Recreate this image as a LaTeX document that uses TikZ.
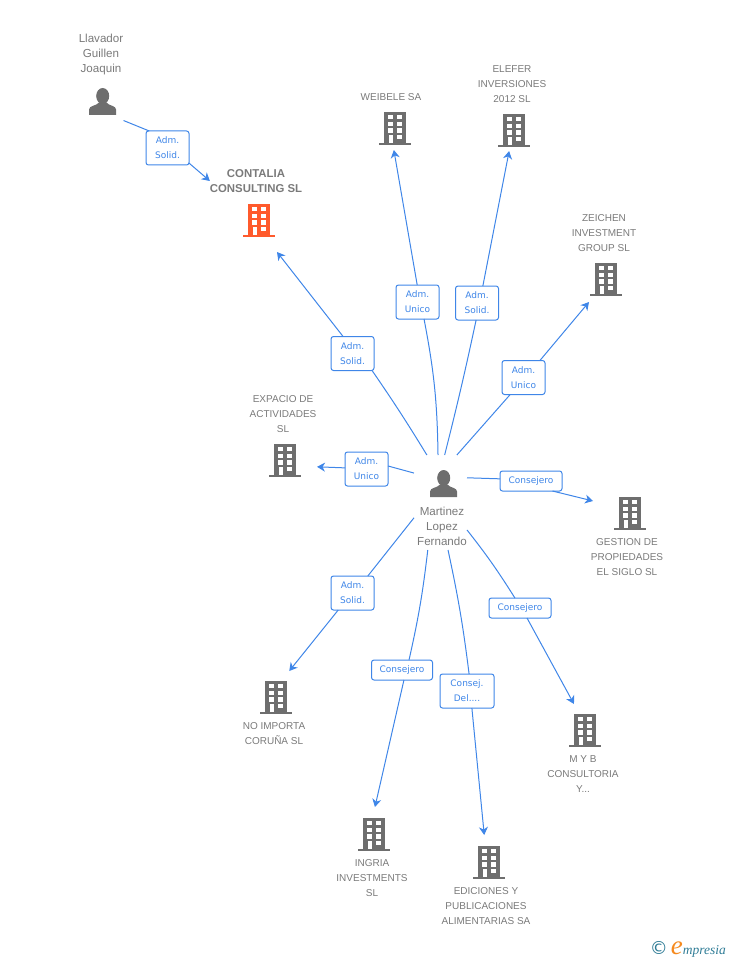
\documentclass[tikz,border=0pt]{standalone}
\usepackage{fontspec}
\setmainfont{Liberation Sans}
\newfontfamily\rolefont{DejaVu Sans}
\newfontfamily\markfont{Liberation Serif}
\usetikzlibrary{arrows.meta}
\definecolor{linkblue}{HTML}{3F86E8}
\definecolor{iconGray}{HTML}{6E6E6E}
\definecolor{nameGray}{HTML}{7A7A7A}
\definecolor{mainOrange}{HTML}{FF5A2C}
\definecolor{markTeal}{HTML}{2F7C96}
\definecolor{markOrange}{HTML}{F58A1F}
\newcommand{\buildingicon}[1]{%
  \begin{scope}[shift={(path picture bounding box.center)}]
    \fill[#1] (-11,-16) rectangle (11,15);
    \fill[#1] (-16,15) rectangle (16,17);
    \fill[white] (-7.3,-13) rectangle (-2.3,-8.7);
    \fill[white] (2.3,-13) rectangle (7.3,-8.7);
    \fill[white] (-7.3,-6.3) rectangle (-2.3,-2);
    \fill[white] (2.3,-6.3) rectangle (7.3,-2);
    \fill[white] (-7.3,0.3) rectangle (-2.3,4.7);
    \fill[white] (2.3,0.3) rectangle (7.3,4.7);
    \fill[white] (-6.5,7) rectangle (-2.3,15);
    \fill[white] (2.3,7) rectangle (7.3,11.3);
  \end{scope}}
\newcommand{\personicon}{%
  \begin{scope}[shift={(path picture bounding box.center)}]
    \fill[iconGray] (0.2,-5.5) ellipse (6.5 and 8);
    \fill[iconGray] (-13.5,13.5) -- (-13.5,8) .. controls (-13.5,4) and (-6,4.5) .. (-3.5,1)
      -- (4,1) .. controls (6.5,4.5) and (13.5,4) .. (13.5,8) -- (13.5,13.5) -- cycle;
  \end{scope}}
\tikzset{
  bldg/.style={minimum width=44pt, minimum height=44pt, inner sep=0pt, outer sep=0pt,
    path picture={\buildingicon{iconGray}}},
  mainbldg/.style={minimum width=36pt, minimum height=64pt, inner sep=0pt, outer sep=0pt,
    path picture={\buildingicon{mainOrange}}},
  person/.style={minimum width=42pt, minimum height=38pt, inner sep=0pt, outer sep=0pt,
    path picture={\personicon}},
  namelbl/.style={align=center, text=nameGray, inner sep=0pt, outer sep=0pt,
    font=\fontsize{10}{15}\selectfont},
  personlbl/.style={namelbl, font=\fontsize{11.6}{15}\selectfont},
  rolelbl/.style={draw=linkblue, line width=1pt, rounded corners=2.5pt, fill=white, align=center,
    text=linkblue, inner sep=0pt, outer sep=0pt, minimum width=43pt, minimum height=34pt,
    font=\rolefont\fontsize{9}{15}\selectfont},
  link/.style={draw=linkblue, line width=1pt},
  linkto/.style={link, -{Stealth[length=8pt, width=9pt, inset=2.5pt]}}
}
\begin{document}
\begin{tikzpicture}[x=1pt, y=-1pt]
    \useasboundingbox (0,0) rectangle (728,960);

    \node[person] (llavador) at (102.5,101.5) {};
    \node[personlbl] (llavadorname) at (101,55) {Llavador\\Guillen\\Joaquin};
    \node[person] (martinezicon) at (443.5,483.5) {};
    \node[personlbl] (martinezname) at (442,526.5) {Martinez\\Lopez\\Fernando};
    \node[inner sep=0pt, outer sep=0pt, minimum width=53pt, minimum height=95pt] (martinez) at (440.5,502.5) {};

    \node[mainbldg] (contalia) at (259,220) {};
    \node[namelbl, font=\fontsize{11.4}{15}\selectfont\bfseries] (contalianame) at (256,181) {CONTALIA\\CONSULTING SL};
    \node[bldg] (weibele) at (395,128) {};
    \node[namelbl] (weibelename) at (391,97) {WEIBELE SA};
    \node[bldg, minimum height=42pt] (elefer) at (514,130) {};
    \node[namelbl] (elefername) at (512,84) {ELEFER\\INVERSIONES\\2012 SL};
    \node[bldg, minimum width=34pt, minimum height=46pt] (zeichen) at (606,279) {};
    \node[namelbl] (zeichenname) at (604,233) {ZEICHEN\\INVESTMENT\\GROUP SL};
    \node[bldg, minimum width=64pt] (expacio) at (285,460) {};
    \node[namelbl] (expacioname) at (283,414) {EXPACIO DE\\ACTIVIDADES\\SL};
    \node[bldg, minimum width=74pt] (gestion) at (630,513) {};
    \node[namelbl] (gestionname) at (627,557) {GESTION DE\\PROPIEDADES\\EL SIGLO SL};
    \node[bldg, minimum width=40pt, minimum height=52pt] (noimporta) at (276,697) {};
    \node[namelbl] (noimportaname) at (274,733.5) {NO IMPORTA\\CORUÑA SL};
    \node[bldg, minimum height=52pt] (myb) at (585,730) {};
    \node[namelbl] (mybname) at (583,774) {M Y B\\CONSULTORIA\\Y...};
    \node[bldg, minimum height=54pt] (ingria) at (374,834) {};
    \node[namelbl] (ingrianame) at (372,878) {INGRIA\\INVESTMENTS\\SL};
    \node[bldg, minimum height=54pt] (ediciones) at (489,862) {};
    \node[namelbl] (edicionesname) at (486,906) {EDICIONES Y\\PUBLICACIONES\\ALIMENTARIAS SA};

    \node[rolelbl] (rolellavador) at (167.5,148) {Adm.\\Solid.};
    \node[rolelbl] (rolecontalia) at (352.5,353.5) {Adm.\\Solid.};
    \node[rolelbl] (roleweibele) at (417.5,302) {Adm.\\Unico};
    \node[rolelbl] (roleelefer) at (477,303) {Adm.\\Solid.};
    \node[rolelbl] (rolezeichen) at (523.5,377.5) {Adm.\\Unico};
    \node[rolelbl] (roleexpacio) at (366.5,469) {Adm.\\Unico};
    \node[rolelbl, minimum width=62pt, minimum height=20pt] (rolegestion) at (531,481) {Consejero};
    \node[rolelbl] (rolenoimporta) at (352.5,593) {Adm.\\Solid.};
    \node[rolelbl, minimum width=61pt, minimum height=20pt] (roleingria) at (402,670) {Consejero};
    \node[rolelbl, minimum width=54pt] (roleediciones) at (467,691) {Consej.\\Del....};
    \node[rolelbl, minimum width=62pt, minimum height=20pt] (rolemyb) at (520,608) {Consejero};

    \draw[link] (llavador.south east) -- (rolellavador.137);
    \draw[linkto] (rolellavador.325) -- (contalianame.west);
    \draw[link] (martinez.106) to[bend right=1.5] (rolecontalia.319);
    \draw[linkto] (rolecontalia.119) -- (contalia.south east);
    \draw[link] (martinez.93) to[bend right=5] (roleweibele.291);
    \draw[linkto] (roleweibele.91) -- (weibele.267);
    \draw[link] (martinez.85) to[bend right=1] (roleelefer.267);
    \draw[linkto] (roleelefer.71) -- (elefer.257);
    \draw[link] (martinez.71) -- (rolezeichen.232);
    \draw[linkto] (rolezeichen.46) -- (zeichen.south west);
    \draw[link] (martinez.132) -- (roleexpacio.8);
    \draw[linkto] (roleexpacio.177) -- (expacio.348);
    \draw[link] (martinez.43) -- (rolegestion.176);
    \draw[linkto] (rolegestion.335) -- (gestion.162);
    \draw[link] (martinez.210) -- (rolenoimporta.48);
    \draw[linkto] (rolenoimporta.230) -- (noimporta.63);
    \draw[link] (martinez.255) to[bend left=3] (roleingria.55);
    \draw[linkto] (roleingria.281) -- (ingria.88);
    \draw[link] (martinez.279) to[bend left=2.5] (roleediciones.83);
    \draw[linkto] (roleediciones.286) -- (ediciones.100);
    \draw[link] (martinez.314) to[bend left=3] (rolemyb.117);
    \draw[linkto] (rolemyb.305) -- (myb.113);

    \node[anchor=east, inner sep=0pt, text=markTeal] (empresia) at (726,949) {{\rolefont\fontsize{18}{18}\selectfont ©}\hspace{3pt}{\markfont\itshape\fontsize{27}{27}\selectfont\color{markOrange}e}{\markfont\itshape\fontsize{13.5}{15}\selectfont mpresia}};
\end{tikzpicture}
\end{document}
